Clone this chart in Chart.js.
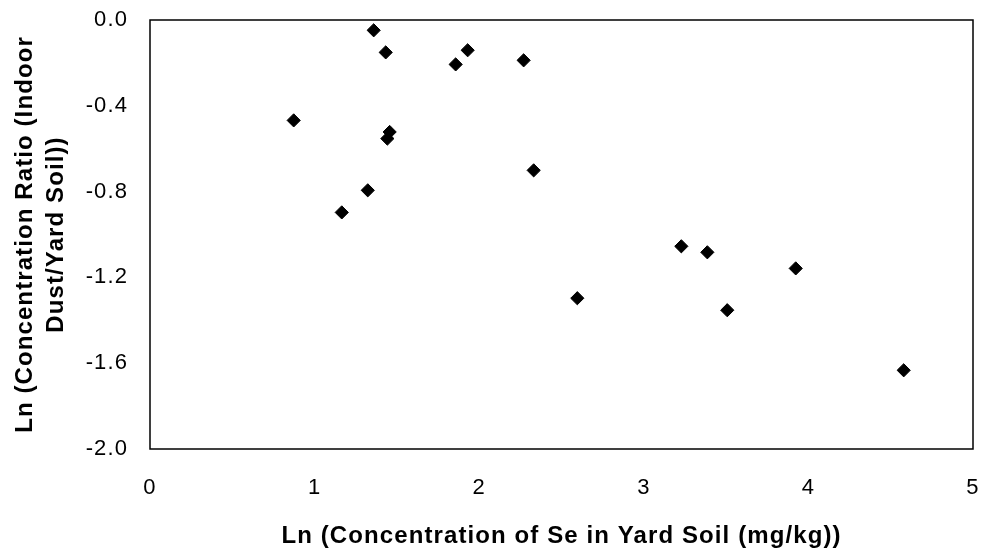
<!DOCTYPE html>
<html>
<head>
<meta charset="utf-8">
<script src="https://cdn.jsdelivr.net/npm/chart.js@4"></script>
<style>
  html, body { margin: 0; padding: 0; background: #fff; }
  #wrap { width: 987px; height: 548px; }
</style>
</head>
<body>
<div id="wrap"><canvas id="c" width="987" height="548"></canvas></div>
<script>
// Ln(Se concentration in yard soil, mg/kg)
const lnSoilSe = [1.359, 1.432, 1.930, 1.857, 2.270, 0.873, 1.456, 1.442, 2.331, 1.323, 1.165, 3.228, 3.386, 3.923, 2.596, 3.507, 4.579];
// Ln(indoor dust / yard soil concentration ratio)
const lnRatio  = [-0.048, -0.151, -0.141, -0.207, -0.188, -0.468, -0.522, -0.553, -0.701, -0.794, -0.897, -1.055, -1.083, -1.158, -1.297, -1.353, -1.633];

const xTicks = [0, 1, 2, 3, 4, 5];
const yTicks = [0.0, -0.4, -0.8, -1.2, -1.6, -2.0];

const xTitle = 'Ln (Concentration of Se in Yard Soil (mg/kg))';
const yTitle = ['Ln (Concentration Ratio (Indoor', 'Dust/Yard Soil))'];

const points = lnSoilSe.map((x, i) => ({ x: x, y: lnRatio[i] }));

const FONT = "'Liberation Sans', Arial, sans-serif";
const SPACING = '1.1px';

const spacingPlugin = {
  id: 'spacing',
  beforeUpdate(chart) { chart.ctx.letterSpacing = SPACING; },
  beforeLayout(chart) { chart.ctx.letterSpacing = SPACING; },
  beforeDraw(chart) { chart.ctx.letterSpacing = SPACING; }
};

const boxPlugin = {
  id: 'box',
  afterDraw(chart) {
    const a = chart.chartArea, ctx = chart.ctx;
    ctx.save();
    ctx.strokeStyle = '#000';
    ctx.lineWidth = 1.5;
    ctx.strokeRect(a.left, a.top, a.right - a.left, a.bottom - a.top);
    ctx.restore();
  }
};

new Chart(document.getElementById('c'), {
  type: 'scatter',
  data: {
    datasets: [{
      data: points,
      pointStyle: 'rectRot',
      pointRadius: 6.6,
      pointHoverRadius: 6.6,
      backgroundColor: '#000',
      borderColor: '#000',
      borderWidth: 1
    }]
  },
  options: {
    responsive: false,
    animation: false,
    devicePixelRatio: 1,
    layout: { padding: { left: 10, top: 20, right: 14, bottom: 0 } },
    plugins: {
      legend: { display: false },
      tooltip: { enabled: false }
    },
    scales: {
      x: {
        type: 'linear',
        min: 0, max: 5,
        afterBuildTicks(scale) { scale.ticks = xTicks.map(v => ({ value: v })); },
        afterFit(scale) { scale.height = 99; scale.paddingLeft = 0; scale.paddingRight = 0; },
        grid: { display: false, drawTicks: false },
        border: { display: false },
        ticks: {
          color: '#000',
          padding: 26,
          font: { family: FONT, size: 22 },
          callback: v => String(v)
        },
        title: {
          display: true,
          text: xTitle,
          color: '#000',
          padding: { top: 0, bottom: 0 },
          font: { family: FONT, size: 24, weight: 'bold', lineHeight: 1.0 }
        }
      },
      y: {
        type: 'linear',
        min: -2, max: 0,
        afterBuildTicks(scale) { scale.ticks = yTicks.map(v => ({ value: v })); },
        afterFit(scale) { scale.width = 140; scale.paddingTop = 0; scale.paddingBottom = 0; },
        grid: { display: false, drawTicks: false },
        border: { display: false },
        ticks: {
          color: '#000',
          padding: 22,
          font: { family: FONT, size: 22 },
          callback: v => Number(v).toFixed(1)
        },
        title: {
          display: true,
          text: yTitle,
          color: '#000',
          padding: { top: 0, bottom: 0 },
          font: { family: FONT, size: 24, weight: 'bold', lineHeight: 1.3 }
        }
      }
    }
  },
  plugins: [spacingPlugin, boxPlugin]
});
</script>
</body>
</html>
